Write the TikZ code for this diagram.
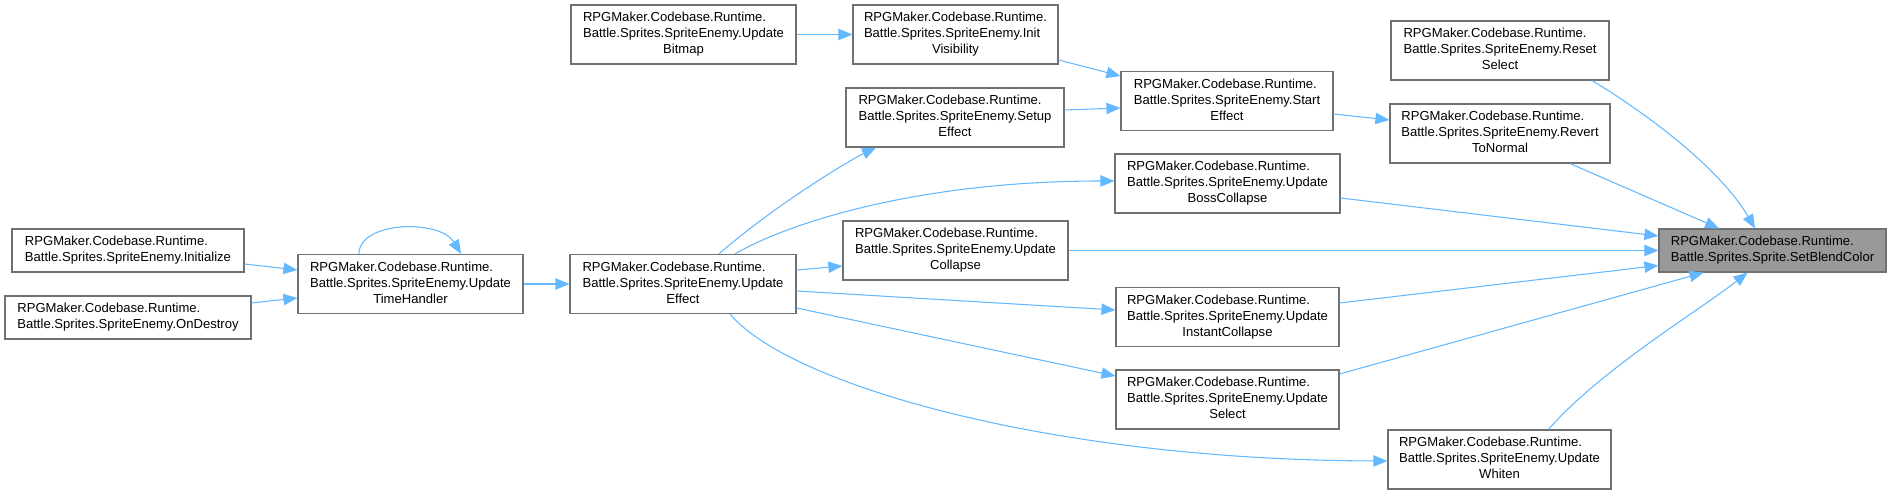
\documentclass[tikz,border=0pt]{standalone}
\usepackage{fontspec}
\setmainfont{Liberation Sans}
\usetikzlibrary{calc,arrows.meta}
\definecolor{callblue}{HTML}{63B8FF}
\definecolor{boxline}{HTML}{707070}
\definecolor{hifill}{HTML}{999999}
\newcommand{\pxu}{0.75pt}
% three line and two line labels, first line always the namespace
\newcommand{\fnthree}[2]{\begin{tabular}{@{}l@{}}RPGMaker.Codebase.Runtime.\\#1\\\multicolumn{1}{@{}c@{}}{#2}\end{tabular}}
\newcommand{\fntwo}[1]{\begin{tabular}{@{}l@{}}RPGMaker.Codebase.Runtime.\\#1\end{tabular}}
\tikzset{
  fnfont/.style={font=\fontsize{9.8}{12}\selectfont},
  fnbox/.style={
    draw=boxline, line width=0.9pt, fill=white, fnfont,
    inner sep=2pt, minimum height=44.25pt, minimum width=#1*\pxu,
  },
  fnboxTwo/.style={fnbox=#1, minimum height=32.25pt},
  fnboxHi/.style={fnboxTwo=#1, fill=hifill},
  callwire/.style={draw=callblue, line width=0.8pt, -{Triangle[length=10.5pt,width=8.5pt]}},
}
\begin{document}
\begin{tikzpicture}[x=0.75pt, y=-0.75pt]
  \useasboundingbox (0,0) rectangle (1891,495);

  % callers on the left
  \node[fnboxTwo=232] (init) at (128,250.5) {\fntwo{Battle.Sprites.SpriteEnemy.Initialize}};
  \node[fnboxTwo=246] (destroy) at (128,317.5) {\fntwo{Battle.Sprites.SpriteEnemy.OnDestroy}};
  \node[fnbox=225] (timeh) at (410.5,284) {\fnthree{Battle.Sprites.SpriteEnemy.Update}{TimeHandler}};
  \node[fnbox=226] (effect) at (683,284) {\fnthree{Battle.Sprites.SpriteEnemy.Update}{Effect}};
  \node[fnbox=225] (bitmap) at (683.5,34.5) {\fnthree{Battle.Sprites.SpriteEnemy.Update}{Bitmap}};

  % middle ranks
  \node[fnbox=205] (initvis) at (955.5,34.5) {\fnthree{Battle.Sprites.SpriteEnemy.Init}{Visibility}};
  \node[fnbox=218] (setup) at (955,117.5) {\fnthree{Battle.Sprites.SpriteEnemy.Setup}{Effect}};
  \node[fnbox=225] (collapse) at (955.5,250.5) {\fnthree{Battle.Sprites.SpriteEnemy.Update}{Collapse}};
  \node[fnbox=212] (start) at (1227,101) {\fnthree{Battle.Sprites.SpriteEnemy.Start}{Effect}};
  \node[fnbox=225] (bossc) at (1227.5,183.5) {\fnthree{Battle.Sprites.SpriteEnemy.Update}{BossCollapse}};
  \node[fnbox=223] (instant) at (1227.5,317) {\fnthree{Battle.Sprites.SpriteEnemy.Update}{InstantCollapse}};
  \node[fnbox=223] (uselect) at (1227.5,399.5) {\fnthree{Battle.Sprites.SpriteEnemy.Update}{Select}};
  \node[fnbox=218] (reset) at (1500,50.5) {\fnthree{Battle.Sprites.SpriteEnemy.Reset}{Select}};
  \node[fnbox=220] (revert) at (1500,133.5) {\fnthree{Battle.Sprites.SpriteEnemy.Revert}{ToNormal}};
  \node[fnbox=223] (whiten) at (1499.5,459.5) {\fnthree{Battle.Sprites.SpriteEnemy.Update}{Whiten}};

  % the called function
  \node[fnboxHi=227] (blend) at (1772.5,250.5) {\fntwo{Battle.Sprites.Sprite.SetBlendColor}};

  \draw[callwire] ($(init.east)+(0,13.5)$) -- ($(timeh.west)+(0,-14)$);
  \draw[callwire] ($(destroy.east)+(0,-14.5)$) -- ($(timeh.west)+(0,14)$);
  \draw[callwire] ($(timeh.north)+(-51.5,0)$) .. controls +(0,-33) and +(-21,-35) .. ($(timeh.north)+(50.5,0)$);
  \draw[callwire] (timeh.east) -- (effect.west);

  \draw[callwire] ($(effect.north)+(36,0)$) .. controls (775,205) and (850,160) .. ($(setup.south)+(-79,0)$);
  \draw[callwire] ($(effect.north)+(52,0)$) .. controls (790,222) and (920,181) .. ($(bossc.west)+(0,-2.5)$);
  \draw[callwire] ($(effect.east)+(0,-14)$) -- ($(collapse.west)+(0,15.5)$);
  \draw[callwire] ($(effect.east)+(0,7)$) -- ($(instant.west)+(0,-7)$);
  \draw[callwire] ($(effect.east)+(0,24)$) -- ($(uselect.west)+(0,-23.5)$);
  \draw[callwire] ($(effect.south)+(47,0)$) .. controls (790,385) and (1050,460) .. ($(whiten.west)+(0,1.5)$);

  \draw[callwire] (bitmap.east) -- (initvis.west);
  \draw[callwire] ($(initvis.east)+(0,25.5)$) -- ($(start.west)+(0,-25)$);
  \draw[callwire] ($(setup.east)+(0,-7.5)$) -- ($(start.west)+(0,7)$);
  \draw[callwire] ($(start.east)+(0,13)$) -- ($(revert.west)+(0,-13.5)$);

  % everything ends in SetBlendColor
  \draw[callwire] ($(reset.south)+(92,0)$) .. controls (1625,100) and (1715,160) .. ($(blend.north)+(-17.5,0)$);
  \draw[callwire] ($(revert.south)+(70,0)$) -- ($(blend.north)+(-53.5,0)$);
  \draw[callwire] ($(bossc.east)+(0,14.5)$) -- ($(blend.west)+(0,-14.5)$);
  \draw[callwire] (collapse.east) -- (blend.west);
  \draw[callwire] ($(instant.east)+(0,-14)$) -- ($(blend.west)+(0,15)$);
  \draw[callwire] ($(uselect.east)+(0,-25.5)$) -- ($(blend.south)+(-69,0)$);
  \draw[callwire] ($(whiten.north)+(49,0)$) .. controls (1600,370) and (1700,310) .. ($(blend.south)+(-25,0)$);

\end{tikzpicture}
\end{document}
